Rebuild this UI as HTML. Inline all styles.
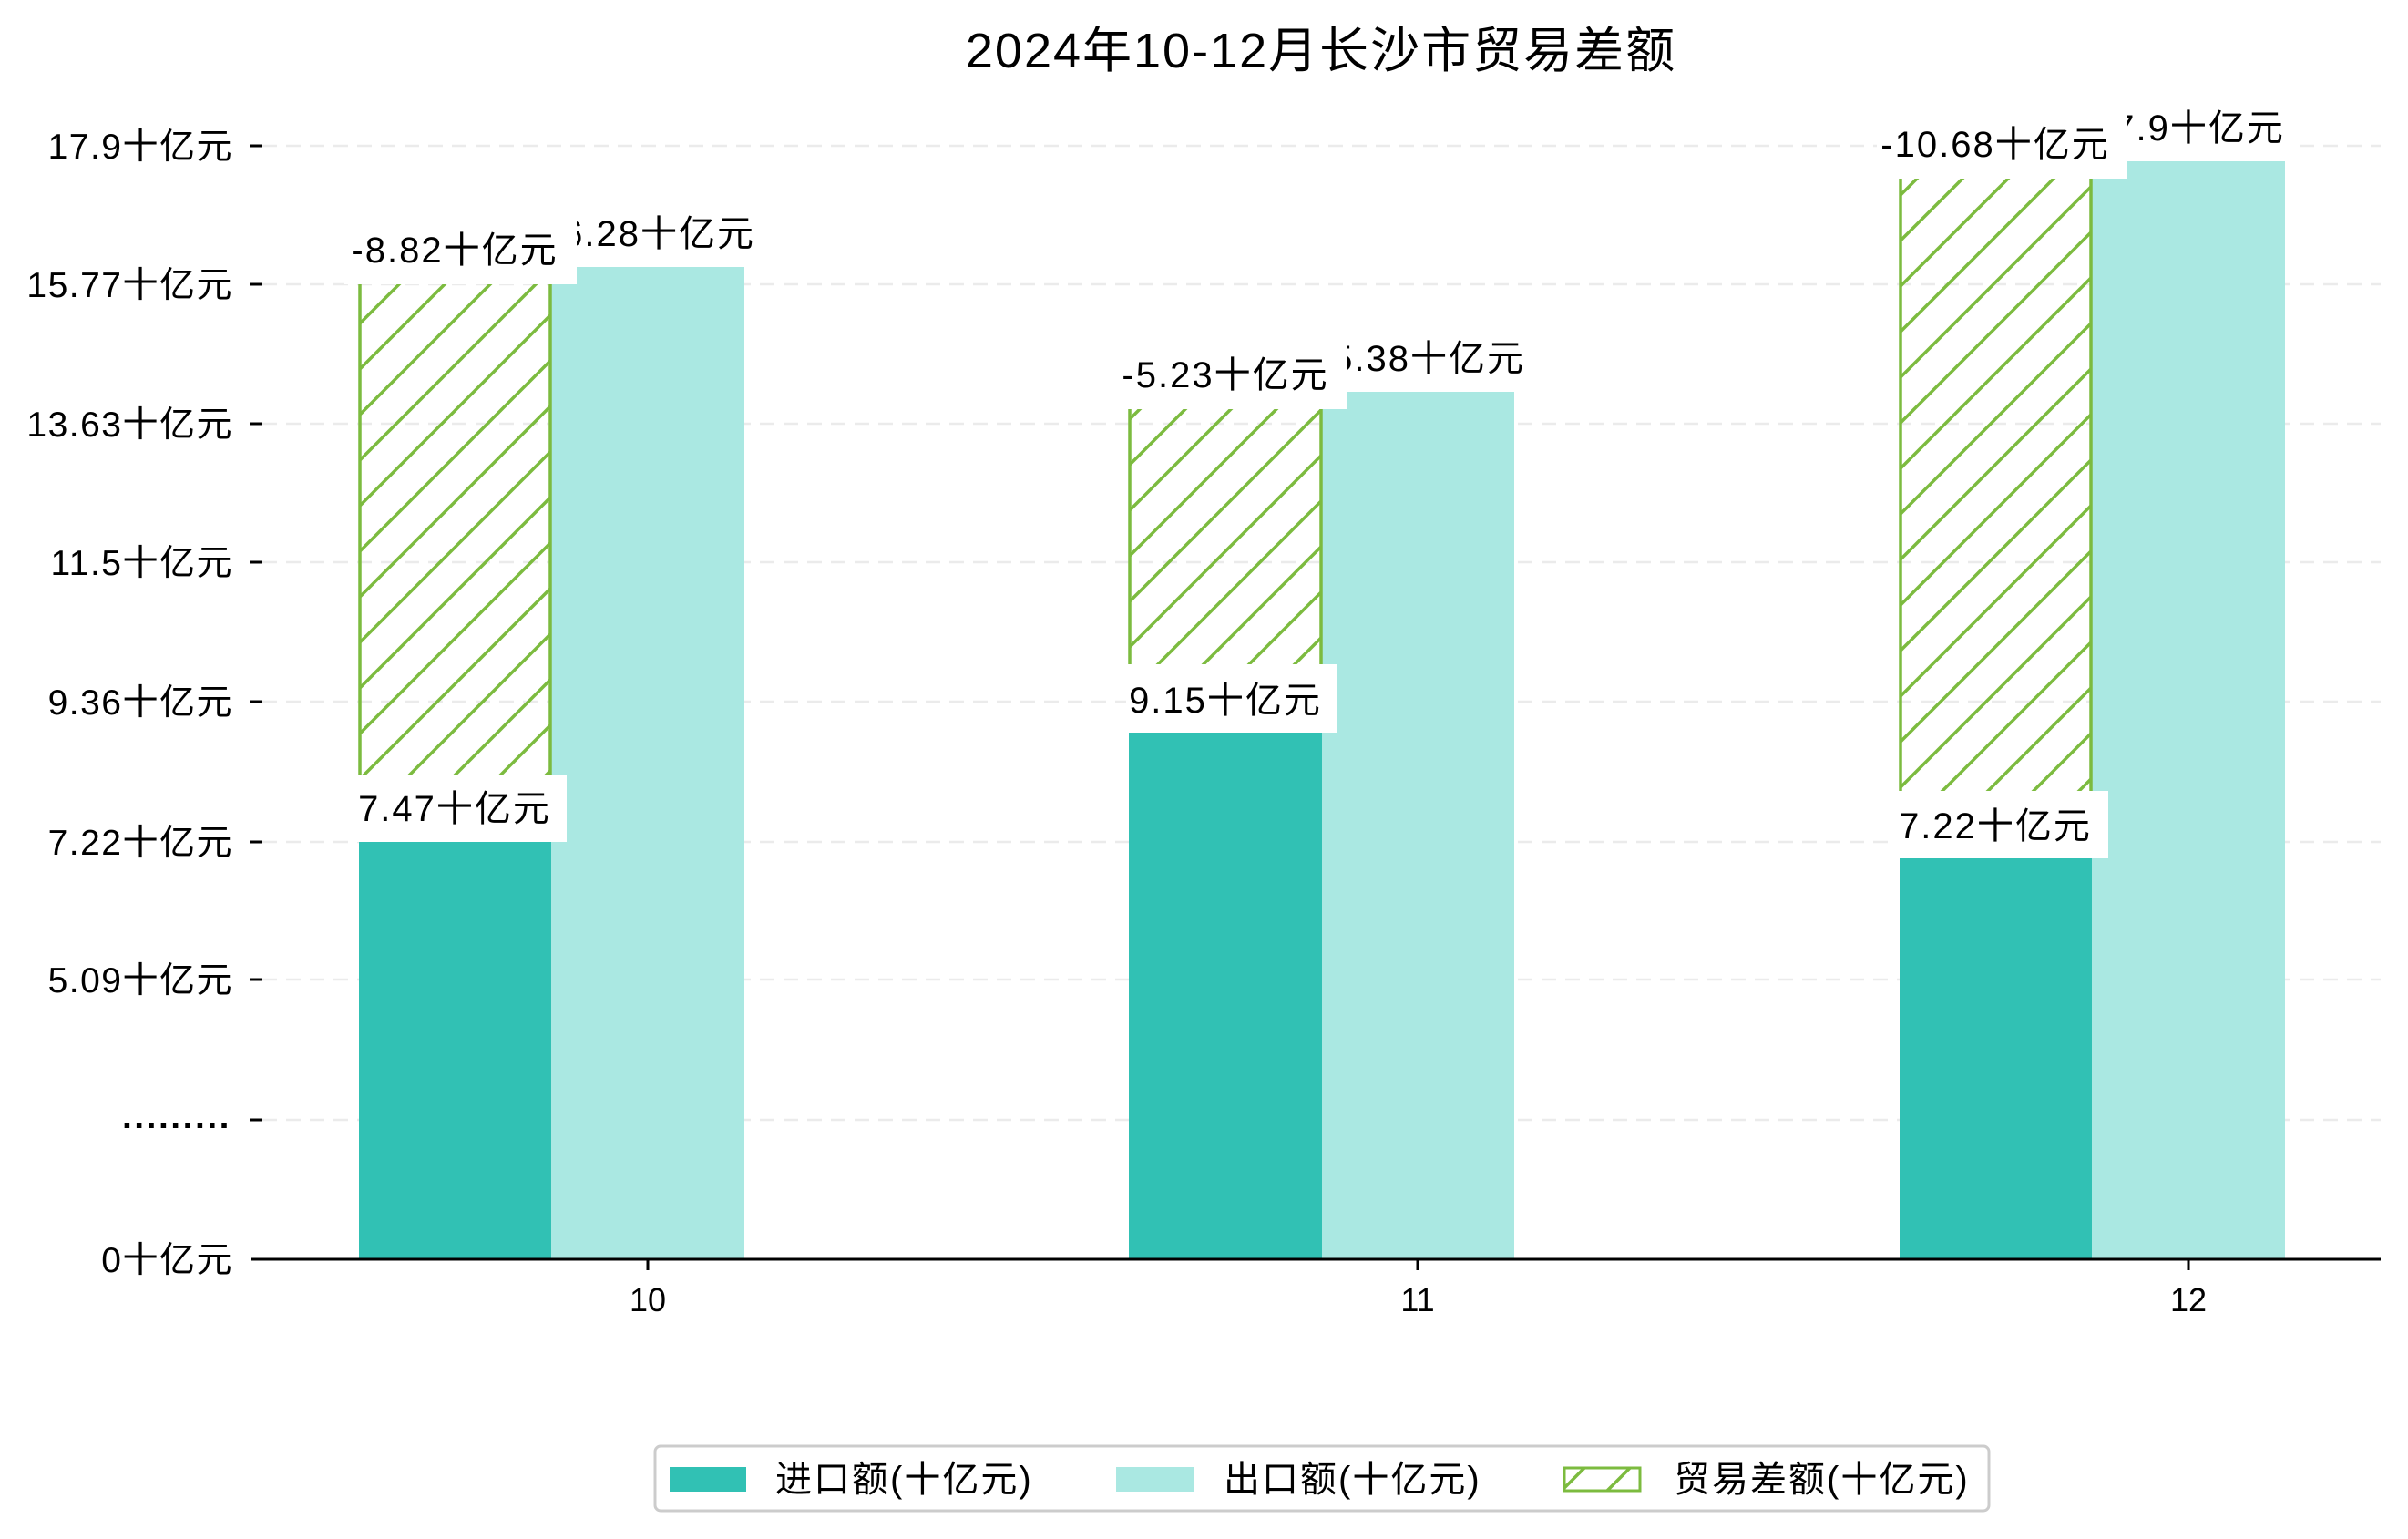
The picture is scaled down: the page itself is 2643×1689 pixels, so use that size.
<!DOCTYPE html>
<html><head><meta charset="utf-8"><style>
html,body{margin:0;padding:0;background:#fff;}
svg{display:block;}
text{font-family:"Liberation Sans","Noto Sans CJK SC",sans-serif;fill:#000;}
</style></head><body>
<svg width="2643" height="1689" viewBox="0 0 2643 1689" xmlns="http://www.w3.org/2000/svg">
<defs>
<pattern id="h" patternUnits="userSpaceOnUse" width="50" height="50">
<path d="M-5,55 L55,-5 M-5,5 L5,-5 M45,55 L55,45" stroke="#7cbb3f" stroke-width="3.5"/>
</pattern>
</defs>
<text x="1450" y="74" font-size="54" text-anchor="middle" letter-spacing="2">2024年10-12月长沙市贸易差额</text>
<!-- grid -->
<g stroke="#ebebeb" stroke-width="2.5" stroke-dasharray="16,10">
<line x1="288" y1="160" x2="2613" y2="160"/>
<line x1="288" y1="312" x2="2613" y2="312"/>
<line x1="288" y1="465" x2="2613" y2="465"/>
<line x1="288" y1="617" x2="2613" y2="617"/>
<line x1="288" y1="770" x2="2613" y2="770"/>
<line x1="288" y1="924" x2="2613" y2="924"/>
<line x1="288" y1="1075" x2="2613" y2="1075"/>
<line x1="288" y1="1229" x2="2613" y2="1229"/>
</g>
<!-- y ticks -->
<g stroke="#000" stroke-width="3">
<line x1="274" y1="160" x2="288" y2="160"/>
<line x1="274" y1="312" x2="288" y2="312"/>
<line x1="274" y1="465" x2="288" y2="465"/>
<line x1="274" y1="617" x2="288" y2="617"/>
<line x1="274" y1="770" x2="288" y2="770"/>
<line x1="274" y1="924" x2="288" y2="924"/>
<line x1="274" y1="1075" x2="288" y2="1075"/>
<line x1="274" y1="1229" x2="288" y2="1229"/>
<line x1="711" y1="1382" x2="711" y2="1394"/>
<line x1="1556" y1="1382" x2="1556" y2="1394"/>
<line x1="2402" y1="1382" x2="2402" y2="1394"/>
</g>
<g font-size="39" text-anchor="end" letter-spacing="1.5">
<text x="256" y="174">17.9十亿元</text>
<text x="256" y="326">15.77十亿元</text>
<text x="256" y="479">13.63十亿元</text>
<text x="256" y="631">11.5十亿元</text>
<text x="256" y="784">9.36十亿元</text>
<text x="256" y="938">7.22十亿元</text>
<text x="256" y="1089">5.09十亿元</text>
<text x="254" y="1238" font-weight="bold" letter-spacing="2.5">.........</text>
<text x="256" y="1396">0十亿元</text>
</g>
<!-- bars -->
<rect x="394" y="924" width="211" height="458" fill="#31c1b4"/>
<rect x="605" y="293" width="212" height="1089" fill="#aae8e2"/>
<rect x="1239" y="804" width="212" height="578" fill="#31c1b4"/>
<rect x="1451" y="430" width="211" height="952" fill="#aae8e2"/>
<rect x="2085" y="942" width="211" height="440" fill="#31c1b4"/>
<rect x="2296" y="177" width="212" height="1205" fill="#aae8e2"/>
<!-- hatch -->
<rect x="395" y="312" width="209" height="612" fill="url(#h)"/>
<rect x="1240" y="449" width="210" height="355" fill="url(#h)"/>
<rect x="2086" y="196" width="209" height="746" fill="url(#h)"/>
<g stroke="#7cbb3f" stroke-width="3.5">
<line x1="395" y1="312" x2="395" y2="924"/><line x1="604" y1="312" x2="604" y2="924"/>
<line x1="1240" y1="449" x2="1240" y2="804"/><line x1="1450" y1="449" x2="1450" y2="804"/>
<line x1="2086" y1="196" x2="2086" y2="942"/><line x1="2295" y1="196" x2="2295" y2="942"/>
</g>
<!-- labels -->
<g font-size="40" text-anchor="middle" letter-spacing="2">
<rect x="592" y="220" width="240" height="73" fill="#fff"/><text x="711" y="270">16.28十亿元</text>
<rect x="378" y="240" width="255" height="72" fill="#fff"/><text x="499" y="288">-8.82十亿元</text>
<rect x="388" y="850" width="234" height="74" fill="#fff"/><text x="499" y="901">7.47十亿元</text>

<rect x="1438" y="357" width="240" height="73" fill="#fff"/><text x="1556" y="407">15.38十亿元</text>
<rect x="1222" y="376" width="257" height="73" fill="#fff"/><text x="1345" y="425">-5.23十亿元</text>
<rect x="1236" y="729" width="232" height="75" fill="#fff"/><text x="1345" y="782">9.15十亿元</text>

<rect x="2283" y="104" width="240" height="73" fill="#fff"/><text x="2402" y="154">17.9十亿元</text>
<rect x="2060" y="124" width="275" height="72" fill="#fff"/><text x="2190" y="172">-10.68十亿元</text>
<rect x="2082" y="868" width="232" height="74" fill="#fff"/><text x="2190" y="920">7.22十亿元</text>
</g>
<line x1="275" y1="1382" x2="2613" y2="1382" stroke="#000" stroke-width="3"/>
<g font-size="36" text-anchor="middle">
<text x="711" y="1439">10</text>
<text x="1556" y="1439">11</text>
<text x="2402" y="1439">12</text>
</g>
<!-- legend -->
<rect x="719" y="1587" width="1464" height="71" rx="6" fill="#fff" stroke="#cccccc" stroke-width="3"/>
<rect x="735" y="1610" width="84" height="27" fill="#31c1b4"/>
<text x="851" y="1637" font-size="40" letter-spacing="2">进口额(十亿元)</text>
<rect x="1225" y="1610" width="85" height="27" fill="#aae8e2"/>
<text x="1343" y="1637" font-size="40" letter-spacing="2">出口额(十亿元)</text>
<rect x="1717" y="1611" width="83" height="25" fill="url(#h)" stroke="#7cbb3f" stroke-width="3"/>
<text x="1837" y="1637" font-size="40" letter-spacing="2">贸易差额(十亿元)</text>
</svg>
</body></html>
